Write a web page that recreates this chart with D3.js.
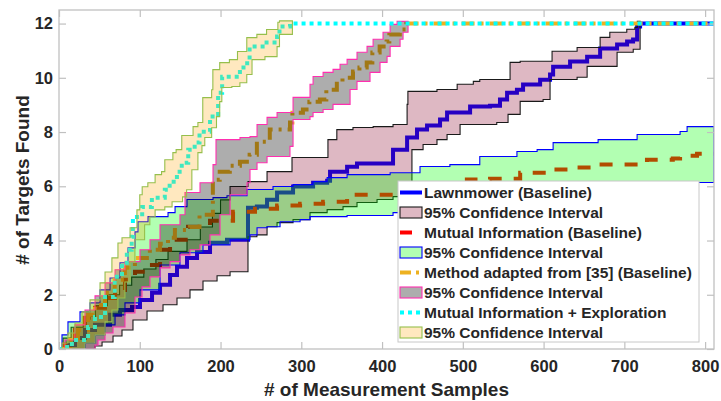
<!DOCTYPE html>
<html>
<head>
<meta charset="utf-8">
<script src="https://cdn.jsdelivr.net/npm/d3@7"></script>
<style>
  body { margin: 0; background: #fff; }
  svg { display: block; }
  text { font-family: Arial, "Liberation Sans", sans-serif; font-weight: bold; fill: #262626; }
</style>
</head>
<body>
<svg id="chart" width="721" height="401"></svg>
<script>
// ---- data: [samples, targets found] step points ----
const lawnMean = [[0,0],[7.4,0.15],[19.8,0.41],[32.2,0.70],[44.6,0.89],[63.2,1.26],[75.5,1.44],[90.4,1.55],[100.3,1.81],[115.2,2.07],[125.1,2.37],[137.5,2.73],[146.1,3.03],[158.5,3.36],[170.9,3.58],[187,3.92],[208,4.03],[234,5.21],[245,5.25],[257.6,5.5],[270,5.77],[289.8,5.99],[314.6,6.13],[332,6.2],[335.6,6.54],[356.7,6.72],[369,6.84],[413.6,7.35],[431,7.8],[443.3,8.09],[455.7,8.24],[471.8,8.46],[480.5,8.72],[509,8.94],[533.7,8.97],[546,9.2],[554.8,9.45],[567,9.56],[574.6,9.75],[595.7,9.93],[608,10.12],[611.8,10.41],[632.8,10.6],[653.9,10.78],[670,11.08],[691,11.23],[703.4,11.34],[710.8,11.41],[715.8,11.89],[719.5,12],[811,12]];
const lawnUpper = [[0,0],[5,0.4],[15,0.8],[30,1.2],[45,1.6],[60,2.0],[75,2.35],[90,2.65],[105,2.95],[120,3.3],[135,3.6],[158.5,4.03],[175,4.5],[190,5.0],[200,5.5],[211.8,5.99],[234,6.17],[257.6,6.54],[288.5,7.06],[333,7.72],[344,8.09],[364,8.17],[389,8.2],[413.6,8.28],[431,9.02],[432,9.5],[468,9.57],[493,9.76],[513,9.87],[521,9.94],[558.5,10.57],[571,10.61],[610.5,10.98],[641.5,11.12],[670,11.49],[682,11.68],[703,11.79],[713,11.86],[716,12.08],[719.5,12.08]];
const lawnLower = [[0,0],[38.4,0],[44.6,0.11],[53.3,0.26],[66.9,0.48],[78,0.70],[91.6,1.07],[109,1.40],[128.8,1.63],[146.1,1.88],[162.2,2.18],[178.3,2.51],[195.7,2.70],[211.8,2.85],[234,4.14],[245,4.21],[257.6,4.51],[270,4.66],[289.8,4.77],[310.8,5.03],[332,5.14],[351.7,5.25],[369,5.40],[393.8,5.51],[413.6,5.62],[437,7.35],[450.8,7.54],[468,7.72],[480.5,7.91],[496.6,8.28],[542,8.35],[556,8.65],[571,9.13],[599.4,9.2],[608,9.94],[641.5,10.02],[653.9,10.42],[691,10.94],[711,11.05],[719.5,11.05]];

const miMean = [[0,0],[7.4,0.26],[19.8,0.70],[32.2,1.15],[44.6,1.52],[57,1.88],[69.4,2.18],[81.7,2.55],[94.1,2.85],[109,3.10],[125.1,3.66],[137.5,4.03],[159.8,4.51],[187,4.73],[215.5,5.06],[242.7,5.17],[270,5.29],[298.5,5.36],[327,5.43],[356.7,5.69],[434.7,5.88],[471.8,6.06],[505,6.25],[533.7,6.28],[571,6.5],[604,6.62],[633,6.69],[666,6.8],[728,6.98],[760,7.02],[769,7.13],[790,7.2],[811,7.2]];
const miUpper = [[0,0],[3.7,0.52],[11.1,1.0],[26,1.37],[38.4,1.70],[50.8,2.18],[63.2,2.62],[75.5,3.18],[85.4,3.73],[94.1,4.32],[97.8,4.69],[110.2,4.88],[135,5.03],[143.7,5.25],[158.5,5.51],[190.7,5.58],[208,5.65],[232.8,5.88],[265,5.99],[289.8,6.06],[314.6,6.17],[332,6.32],[356.7,6.43],[410,6.5],[447,6.73],[484,6.80],[521,7.10],[567,7.28],[592,7.35],[611.8,7.61],[667.5,7.72],[715.8,7.91],[769,8.02],[777.7,8.2],[811,8.2]];
const miLower = [[0,0],[19.8,0],[32.2,0.22],[44.6,0.52],[57,0.89],[69.4,1.26],[81.7,1.70],[100.3,2.18],[125.1,3.10],[149.8,3.55],[178.3,3.84],[211.8,4.03],[236.5,4.21],[245.2,4.47],[257.6,4.51],[273.7,4.69],[298.5,4.77],[310.8,4.88],[356.7,4.92],[413.6,5.03],[484,5.32],[608,5.69],[732,5.95],[791,6.14],[811,6.14]];

const adMean = [[0,0],[4,0],[13.6,0.33],[23.5,0.7],[36,1.26],[44.5,1.62],[57,2.07],[69,2.55],[81.6,3.0],[94,3.36],[112.5,3.66],[125,3.88],[135,4.1],[143.5,4.39],[162,4.5],[174,4.95],[190.5,6.24],[199,6.54],[211.5,6.76],[224,6.9],[236,7.16],[245,7.64],[261,8.09],[286,8.35],[289,8.71],[302,8.83],[310,9.12],[323,9.2],[331,9.56],[344,9.86],[351,10.0],[364,10.23],[372,10.38],[381,10.56],[388,10.93],[397,11.15],[405.6,11.34],[409,11.6],[422,11.78],[430,12],[811,12]];
const adUpper = [[0,0],[7.4,0.33],[19.8,0.89],[32.2,1.44],[44.6,1.96],[57,2.44],[69.4,2.92],[81.7,3.22],[100.3,3.66],[112.7,4.03],[125.1,4.58],[149.8,4.95],[156,5.77],[174.6,6.13],[190.7,6.80],[194.4,7.72],[224.1,7.80],[236.5,7.83],[245.2,8.28],[257.6,8.54],[270,8.72],[289.8,9.28],[310.8,9.76],[314.6,10.05],[327,10.2],[339.3,10.31],[348,10.5],[356.7,10.68],[369,10.94],[381.4,11.16],[388.9,11.42],[401.2,11.68],[410,11.97],[418.6,12.08],[432.2,12.08]];
const adLower = [[0,0],[32.2,0],[44.6,0.15],[48.3,0.33],[57,0.59],[66.9,0.81],[81.7,1.33],[94.1,1.92],[102.8,2.29],[112.7,2.66],[125.1,2.99],[137.5,3.22],[149.8,3.47],[162.2,3.66],[174.6,3.84],[187,4.21],[199.4,4.95],[211.8,5.69],[232.8,6.13],[236.5,6.62],[245.2,6.87],[257.6,7.10],[286,7.47],[289.8,8.46],[310.8,8.57],[314.6,8.72],[327,8.83],[339.3,9.02],[360.4,9.57],[369,9.87],[385.1,10.2],[397.5,10.57],[406.2,10.79],[410,11.16],[422.3,11.42],[426,11.68],[432.2,11.72]];

const mieMean = [[0,0],[3.7,0.07],[16,0.33],[36,0.81],[44.5,1.18],[57,1.92],[69,2.66],[78,3.18],[84,3.66],[90,4.14],[91.5,4.87],[103,5.24],[115,5.58],[131,5.87],[137,6.17],[146,6.54],[152,6.87],[160,7.35],[168,7.61],[174,8.01],[187,8.57],[197,9.45],[202,10.04],[224,10.38],[233,10.67],[236,11.15],[257,11.3],[270,11.52],[273,11.89],[286,12],[811,12]];
const mieUpper = [[0,0],[3.7,0.22],[11,0.59],[19.8,0.96],[28.5,1.37],[38.4,1.81],[50.8,2.44],[57,2.84],[65.5,3.36],[73,3.91],[78,4.1],[88,4.47],[96.5,5.13],[100,5.69],[103,5.98],[110,6.13],[119,6.43],[127,6.54],[131,6.98],[141,7.24],[145,7.35],[152,7.87],[166,8.2],[172,8.35],[178,9.27],[189,9.56],[190.5,10.3],[199,10.56],[211,10.67],[221,10.97],[232.5,11.48],[245,11.6],[257,11.78],[271,12.05],[273,12.1],[289,12.1]];
const mieLower = [[0,0],[20,0],[32,0.22],[44.5,0.52],[57,1.0],[65.5,1.44],[73,1.88],[81.6,2.47],[88,3.21],[94,4.03],[106,4.58],[112.5,4.87],[119,5.13],[131,5.24],[140,5.43],[153,5.61],[158,5.87],[164.5,6.61],[172,7.24],[177,7.5],[180.5,7.8],[189,8.16],[195,8.57],[199,9.12],[201.6,9.64],[214,9.68],[224,9.82],[232.5,10.12],[239,10.67],[255,10.78],[270,11.15],[273,11.6],[289,11.67]];

const xTicks = [0,100,200,300,400,500,600,700,800];
const yTicks = [0,2,4,6,8,10,12];
const legendLabels = [
  "Lawnmower (Baseline)", "95% Confidence Interval",
  "Mutual Information (Baseline)", "95% Confidence Interval",
  "Method adapted from [35] (Baseline)", "95% Confidence Interval",
  "Mutual Information + Exploration", "95% Confidence Interval"
];

// ---- layout ----
const W = 721, H = 401;
const m = { left: 59, right: 7, top: 10, bottom: 52 };
const svg = d3.select("#chart");
const x = d3.scaleLinear().domain([0, 811]).range([m.left, W - m.right]);
const y = d3.scaleLinear().domain([0, 12.5]).range([H - m.bottom, m.top]);

svg.append("defs").append("clipPath").attr("id", "plotclip")
  .append("rect").attr("x", m.left).attr("y", m.top)
  .attr("width", W - m.left - m.right).attr("height", H - m.top - m.bottom);

const plot = svg.append("g").attr("clip-path", "url(#plotclip)");

const stepLine = d3.line().x(d => x(d[0])).y(d => y(d[1])).curve(d3.curveStepAfter);
const stepBack = d3.line().x(d => x(d[0])).y(d => y(d[1])).curve(d3.curveStepBefore);
function bandPath(upper, lower) {
  const a = stepLine(upper);
  const b = stepBack(lower.slice().reverse());
  return a + "L" + b.slice(1) + "Z";
}

const series = [
  { mean: lawnMean, up: lawnUpper, lo: lawnLower, color: "#0000ff", dash: null,
    fill: "rgba(135,0,40,0.28)", edge: "#1a1a1a" },
  { mean: miMean, up: miUpper, lo: miLower, color: "#ff0000", dash: "13,12",
    fill: "rgba(0,255,0,0.3)", edge: "#0000ff" },
  { mean: adMean, up: adUpper, lo: adLower, color: "#edb120", dash: "13,6,3,6",
    fill: "rgba(0,0,0,0.32)", edge: "#ff2fb0" },
  { mean: mieMean, up: mieUpper, lo: mieLower, color: "#00ffff", dash: "4,4",
    fill: "rgba(255,165,0,0.25)", edge: "#96bf4c" }
];

// each mean line is drawn first, then its translucent confidence band over it
series.forEach(s => {
  plot.append("path").attr("d", stepLine(s.mean))
    .attr("fill", "none").attr("stroke", s.color).attr("stroke-width", 4)
    .attr("stroke-dasharray", s.dash);
  plot.append("path").attr("d", bandPath(s.up, s.lo))
    .attr("fill", s.fill).attr("stroke", s.edge).attr("stroke-width", 1.1);
});

// ---- axes box and ticks ----
const axisColor = "#c0c0c0";
const gx = svg.append("g").attr("transform", `translate(0,${H - m.bottom})`)
  .call(d3.axisBottom(x).tickValues(xTicks).tickSizeInner(-7).tickSizeOuter(0).tickPadding(11));
const gxt = svg.append("g").attr("transform", `translate(0,${m.top})`)
  .call(d3.axisTop(x).tickValues(xTicks).tickSizeInner(-7).tickSizeOuter(0).tickFormat(""));
const gy = svg.append("g").attr("transform", `translate(${m.left},0)`)
  .call(d3.axisLeft(y).tickValues(yTicks).tickSizeInner(-7).tickSizeOuter(0).tickPadding(6));
const gyr = svg.append("g").attr("transform", `translate(${W - m.right},0)`)
  .call(d3.axisRight(y).tickValues(yTicks).tickSizeInner(-7).tickSizeOuter(0).tickFormat(""));
[gx, gxt, gy, gyr].forEach(g => {
  g.select(".domain").remove();
  g.selectAll(".tick line").attr("stroke", axisColor).attr("stroke-width", 1.2);
  g.selectAll(".tick text").style("font-size", "16.5px").attr("fill", "#262626");
});
svg.append("rect").attr("x", m.left).attr("y", m.top)
  .attr("width", W - m.left - m.right).attr("height", H - m.top - m.bottom)
  .attr("fill", "none").attr("stroke", axisColor).attr("stroke-width", 1.3);

// ---- axis titles ----
svg.append("text").attr("x", (m.left + W - m.right) / 2).attr("y", 396)
  .attr("text-anchor", "middle").style("font-size", "19px")
  .text("# of Measurement Samples");
svg.append("text").attr("transform", "translate(28.5,180) rotate(-90)")
  .attr("text-anchor", "middle").style("font-size", "19px")
  .text("# of Targets Found");

// ---- legend ----
const lg = svg.append("g");
lg.append("rect").attr("x", 398).attr("y", 181).attr("width", 301).attr("height", 161)
  .attr("fill", "#fff").attr("stroke", "#c8c8c8").attr("stroke-width", 1);
legendLabels.forEach((label, i) => {
  const cy = 192.5 + i * 20;
  const s = series[Math.floor(i / 2)];
  if (i % 2 === 0) {
    lg.append("line").attr("x1", 400).attr("x2", 422).attr("y1", cy).attr("y2", cy)
      .attr("stroke", s.color).attr("stroke-width", 4)
      .attr("stroke-dasharray", i === 2 ? "12,20" : i === 4 ? "11,5,3,20" : i === 6 ? "4,4" : null);
  } else {
    lg.append("rect").attr("x", 400).attr("y", cy - 5.5).attr("width", 22).attr("height", 11)
      .attr("fill", s.fill).attr("stroke", s.edge).attr("stroke-width", 1.1);
  }
  lg.append("text").attr("x", 424).attr("y", cy + 5.5).style("font-size", "15.5px").text(label);
});
</script>
</body>
</html>
